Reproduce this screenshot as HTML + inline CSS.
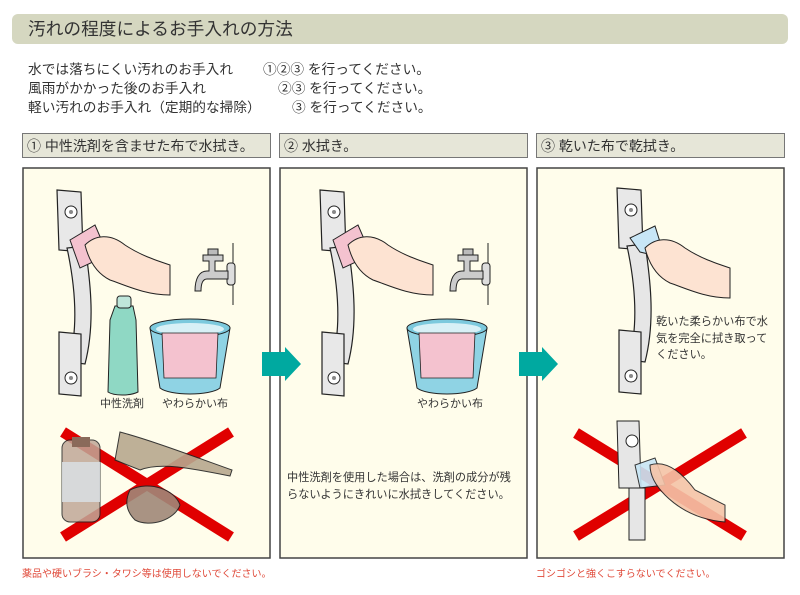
<!DOCTYPE html>
<html><head><meta charset="utf-8"><style>
body{margin:0;background:#fff;}
svg{display:block;font-family:"Liberation Sans","Noto Sans CJK JP",sans-serif;}
</style></head><body>
<svg width="800" height="595" viewBox="0 0 800 595" xmlns="http://www.w3.org/2000/svg">
<defs>
<g id="handle">
  <path d="M0,0 L24,2 L26,62 L2,60 Z" fill="#e8e8e8" stroke="#222" stroke-width="1.2"/>
  <circle cx="14" cy="22" r="6" fill="#fff" stroke="#222"/><circle cx="14" cy="22" r="2" fill="#888"/>
  <path d="M10,58 C18,95 22,135 12,172 L28,174 C38,135 34,95 28,56 Z" fill="#e6e6e6" stroke="#222" stroke-width="1.2"/>
  <path d="M2,142 L24,144 L24,206 L2,204 Z" fill="#e8e8e8" stroke="#222" stroke-width="1.2"/>
  <circle cx="14" cy="188" r="6" fill="#fff" stroke="#222"/><circle cx="14" cy="188" r="2" fill="#888"/>
</g>
<g id="hand">
  <path d="M0,20 C10,10 25,8 40,20 C55,30 70,35 85,40 L85,70 C60,70 40,60 25,55 C15,50 5,40 0,20 Z" fill="#fde3d2" stroke="#222" stroke-width="1"/>
</g>
<g id="faucet">
  <line x1="38" y1="0" x2="38" y2="62" stroke="#222"/>
  <rect x="32" y="20" width="8" height="22" rx="3" fill="#ddd" stroke="#222"/>
  <path d="M8,12 L28,12 L28,18 L20,18 L20,28 L33,28 L33,36 L12,36 C8,36 6,40 6,48 L0,48 C0,36 4,28 12,28 L14,28 L14,18 L8,18 Z" fill="#ccc" stroke="#222"/>
  <rect x="13" y="6" width="10" height="6" fill="#bbb" stroke="#222"/>
</g>
<g id="bucket">
  <path d="M0,10 L10,70 C20,78 60,78 70,70 L80,10 Z" fill="#8fd3e4" stroke="#222"/>
  <ellipse cx="40" cy="10" rx="40" ry="9" fill="#7cc9dd" stroke="#222"/>
  <ellipse cx="40" cy="11" rx="34" ry="6" fill="#d8f0f6"/>
  <path d="M12,15 L68,15 L66,60 L14,60 Z" fill="#f4c2cf" stroke="#222" stroke-width=".8"/>
</g>
</defs>

<rect x="12" y="14" width="776" height="30" rx="6" fill="#d5d7c0"/>
<text x="28" y="35" font-size="17.7" fill="#333">汚れの程度によるお手入れの方法</text>

<g font-size="13.7" fill="#333">
<text x="28" y="74">水では落ちにくい汚れのお手入れ</text>
<text x="28" y="93">風雨がかかった後のお手入れ</text>
<text x="28" y="112">軽い汚れのお手入れ（定期的な掃除）</text>
<text x="263" y="74">①②③ を行ってください。</text>
<text x="278" y="93">②③ を行ってください。</text>
<text x="292" y="112">③ を行ってください。</text>
</g>

<g fill="#e6e6d8" stroke="#777">
<rect x="22.5" y="133.5" width="248" height="24"/>
<rect x="279.5" y="133.5" width="248" height="24"/>
<rect x="536.5" y="133.5" width="248" height="24"/>
</g>
<g font-size="14" fill="#333">
<text x="27" y="151">① 中性洗剤を含ませた布で水拭き。</text>
<text x="284" y="151">② 水拭き。</text>
<text x="541" y="151">③ 乾いた布で乾拭き。</text>
</g>

<g fill="#fffdeb" stroke="#444" stroke-width="1.5">
<rect x="23" y="168" width="247" height="390"/>
<rect x="280" y="168" width="247" height="390"/>
<rect x="537" y="168" width="247" height="390"/>
</g>

<path d="M262,352 L285,352 L285,347 L301,364 L285,381 L285,376 L262,376 Z" fill="#00a9a0"/>
<path d="M519,352 L542,352 L542,347 L558,364 L542,381 L542,376 L519,376 Z" fill="#00a9a0"/>

<!-- panel1 -->
<use href="#handle" x="57" y="190"/>
<path d="M70,240 L95,225 L108,255 L80,268 Z" fill="#f4c2cf" stroke="#222"/>
<use href="#hand" x="85" y="225"/>
<use href="#faucet" x="195" y="243"/>
<path d="M115,306 L133,306 L136,320 L138,392 C130,396 114,396 108,392 L110,320 Z" fill="#8fd8c4" stroke="#222"/>
<rect x="117" y="296" width="14" height="12" rx="3" fill="#bfe6da" stroke="#222"/>
<use href="#bucket" x="150" y="318"/>
<g font-size="11" fill="#333"><text x="100" y="407">中性洗剤</text><text x="162" y="407">やわらかい布</text></g>
<g stroke="#e00000" stroke-width="11"><line x1="63" y1="432" x2="231" y2="537"/><line x1="63" y1="537" x2="231" y2="432"/></g>
<rect x="62" y="440" width="38" height="82" rx="8" fill="#c0a898" stroke="#222" opacity=".85"/>
<rect x="62" y="462" width="38" height="40" fill="#d8dde0" opacity=".9"/>
<rect x="72" y="437" width="18" height="10" fill="#8a6a5a"/>
<path d="M120,432 C150,440 190,455 232,470 L230,476 C190,468 160,462 140,470 L115,460 Z" fill="#b8a88e" stroke="#222" opacity=".9"/>
<path d="M130,490 C150,480 175,490 180,505 C175,520 150,528 135,520 C125,510 125,500 130,490 Z" fill="#a08878" stroke="#222" opacity=".9"/>
<text x="22" y="577" font-size="10" fill="#e04a3a">薬品や硬いブラシ・タワシ等は使用しないでください。</text>

<!-- panel2 -->
<use href="#handle" x="320" y="190"/>
<path d="M333,240 L358,225 L371,255 L343,268 Z" fill="#f4c2cf" stroke="#222"/>
<use href="#hand" x="348" y="225"/>
<use href="#faucet" x="450" y="243"/>
<use href="#bucket" x="407" y="318"/>
<text x="417" y="407" font-size="11" fill="#333">やわらかい布</text>
<g font-size="11.2" fill="#333"><text x="287" y="481">中性洗剤を使用した場合は、洗剤の成分が残</text><text x="287" y="498">らないようにきれいに水拭きしてください。</text></g>

<!-- panel3 -->
<use href="#handle" x="617" y="188"/>
<path d="M630,238 L655,226 L665,258 L640,252 Z" fill="#c8e6f6" stroke="#222"/>
<use href="#hand" x="645" y="228"/>
<g font-size="11.2" fill="#333"><text x="656" y="325">乾いた柔らかい布で水</text><text x="656" y="342">気を完全に拭き取って</text><text x="656" y="358">ください。</text></g>
<g stroke="#e00000" stroke-width="11"><line x1="576" y1="433" x2="744" y2="536"/><line x1="576" y1="536" x2="744" y2="433"/></g>
<path d="M617,421 L639,421 L641,488 L619,488 Z" fill="#e6e6e6" stroke="#222"/>
<circle cx="632" cy="441" r="6" fill="#fff" stroke="#222"/>
<rect x="629" y="488" width="16" height="52" fill="#e6e6e6" stroke="#222"/>
<path d="M635,465 L655,458 L665,485 L640,488 Z" fill="#c8e6f6" stroke="#222" opacity=".9"/>
<path d="M650,465 C665,460 680,470 695,490 L725,505 L725,522 C700,520 680,510 665,495 C655,485 650,475 650,465 Z" fill="#f5c4a8" stroke="#222" opacity=".9"/>
<text x="536" y="577" font-size="10" fill="#e04a3a">ゴシゴシと強くこすらないでください。</text>
</svg>
</body></html>
